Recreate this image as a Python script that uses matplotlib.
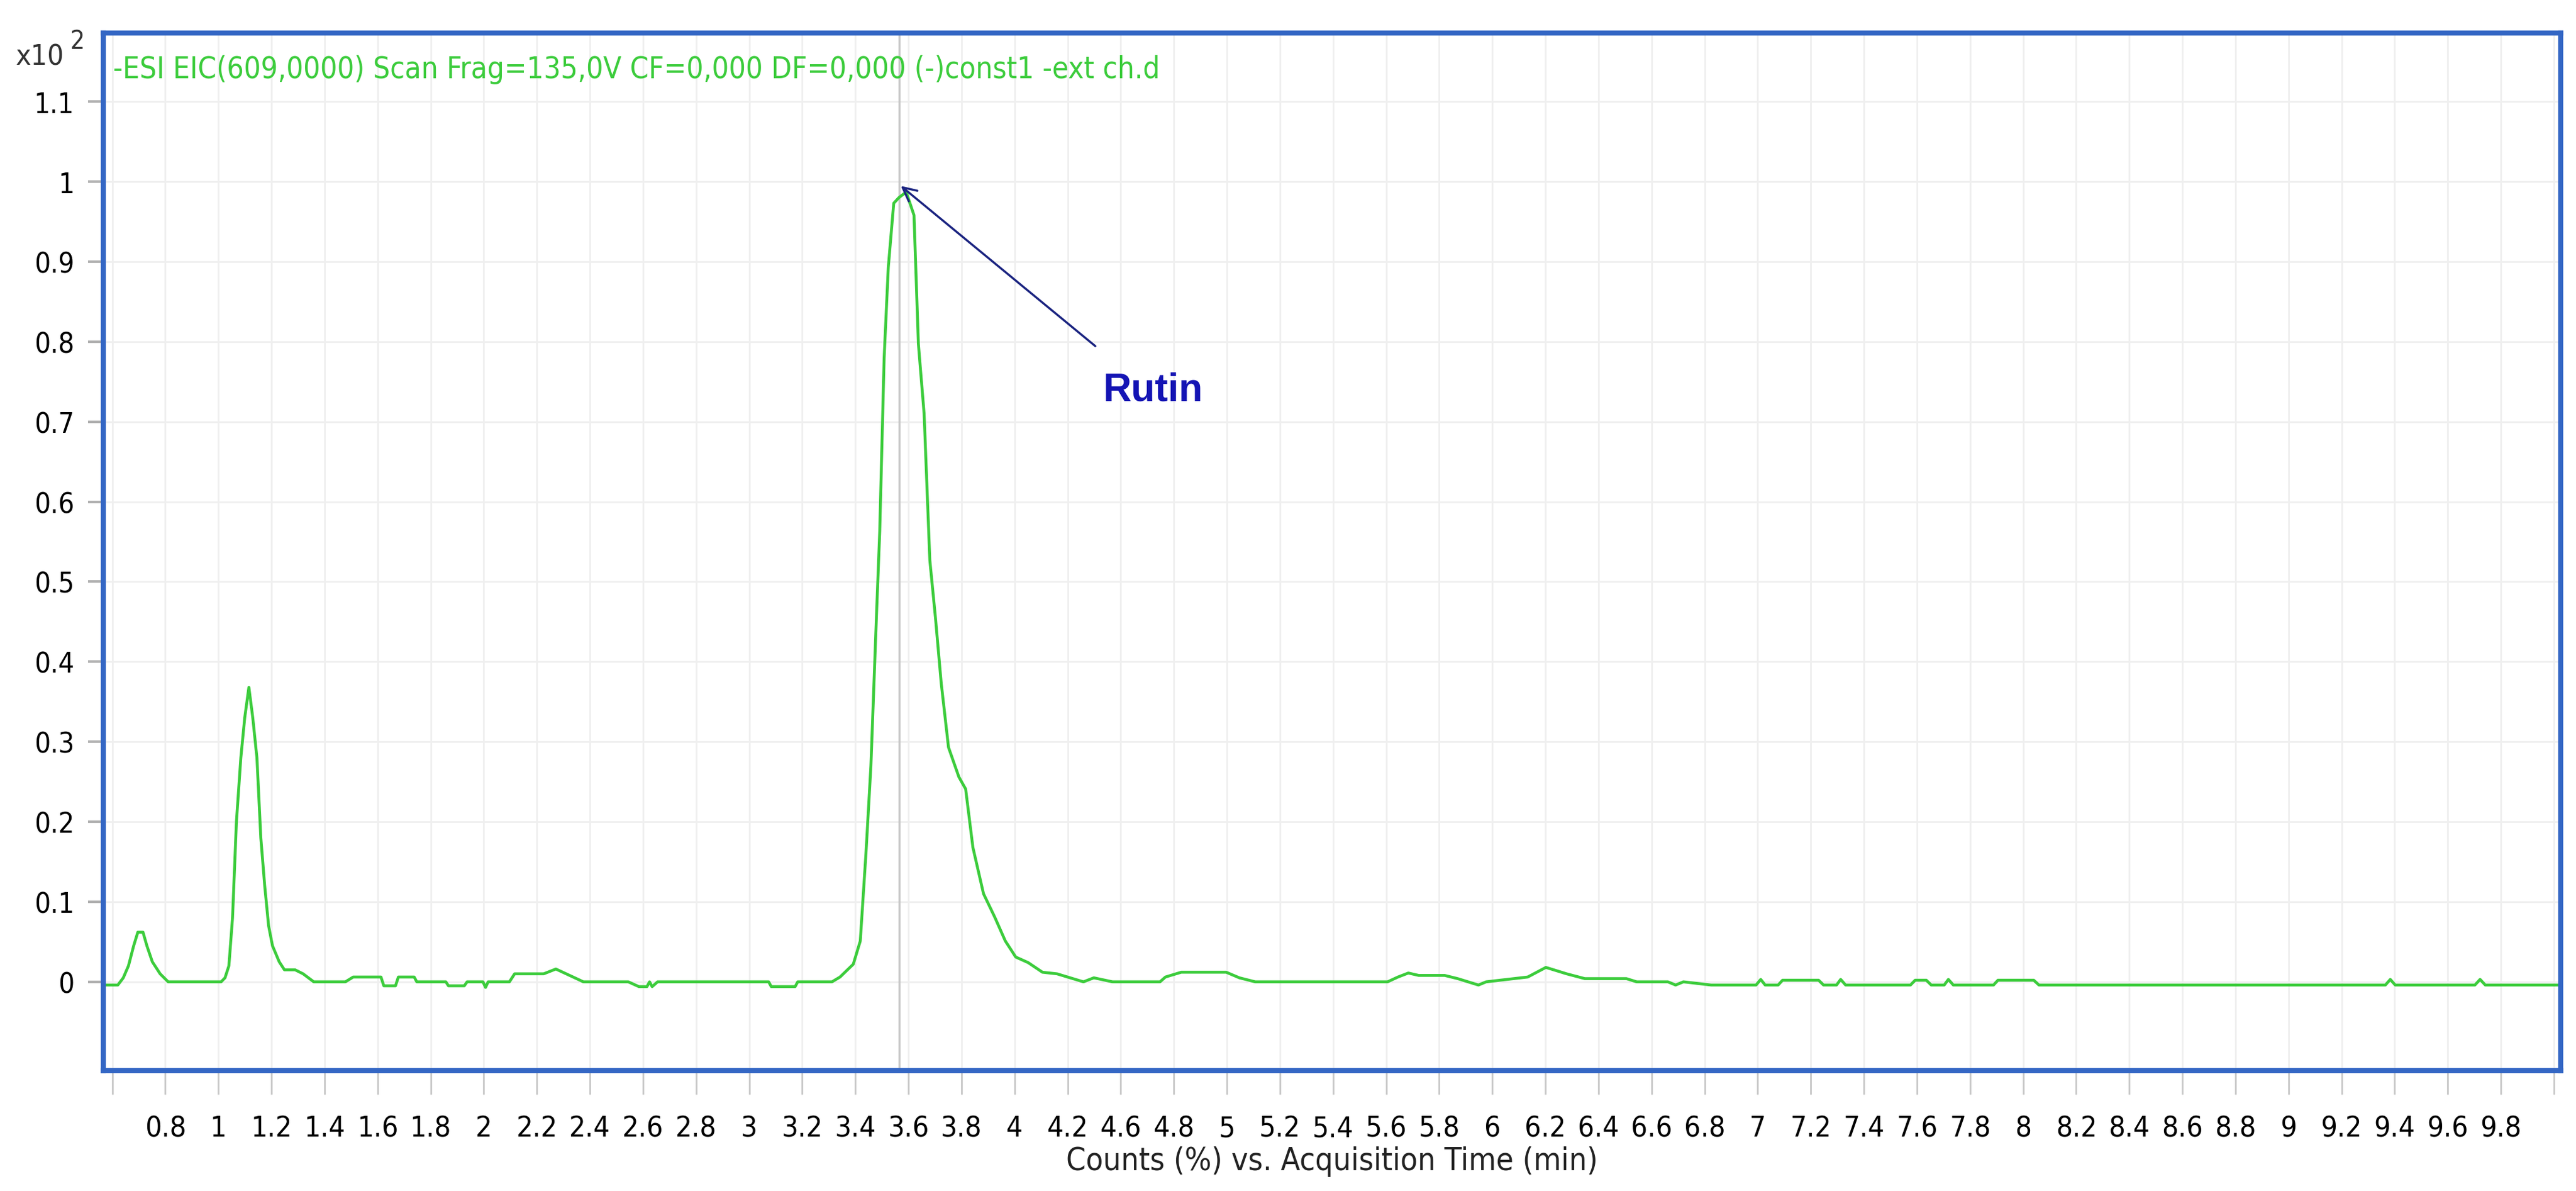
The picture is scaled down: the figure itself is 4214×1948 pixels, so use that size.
import matplotlib
matplotlib.use("Agg")
import matplotlib.pyplot as plt
from matplotlib import font_manager

tiempo = [0.556, 0.617, 0.638, 0.658, 0.678, 0.694, 0.714, 0.729, 0.750, 0.780, 0.811,
          1.015, 1.030, 1.045, 1.059, 1.074, 1.091, 1.106, 1.122, 1.137, 1.153, 1.168,
          1.183, 1.198, 1.213, 1.239, 1.259, 1.300, 1.331, 1.372, 1.494, 1.524, 1.631,
          1.642, 1.687, 1.698, 1.759, 1.769, 1.881, 1.891, 1.952, 1.963, 2.024, 2.034,
          2.044, 2.126, 2.146, 2.258, 2.305, 2.411, 2.584, 2.625, 2.656, 2.666, 2.676,
          2.697, 3.125, 3.135, 3.227, 3.237, 3.369, 3.400,
          3.451, 3.478, 3.500, 3.519, 3.540, 3.553, 3.570, 3.586, 3.607, 3.627, 3.655,
          3.685, 3.702, 3.724, 3.746, 3.768, 3.790, 3.818, 3.858, 3.884, 3.912, 3.953,
          3.996, 4.037, 4.077, 4.125, 4.180, 4.236, 4.338, 4.378, 4.450, 4.633, 4.654,
          4.715, 4.888, 4.939, 5.000,
          5.51, 5.55, 5.59, 5.63, 5.73, 5.78, 5.82, 5.86, 5.89, 6.05, 6.12, 6.20, 6.27,
          6.43, 6.47, 6.59, 6.62, 6.65, 6.757, 6.93, 6.948, 6.965, 7.015, 7.032, 7.171,
          7.19, 7.24, 7.256, 7.275, 7.525, 7.543, 7.586, 7.605, 7.655, 7.671, 7.69,
          7.845, 7.862, 8.0, 8.02, 9.355, 9.374, 9.393, 9.70, 9.72, 9.74, 10.03]
intensidad = [-0.004, -0.004, 0.005, 0.02, 0.045, 0.062, 0.062, 0.045, 0.025, 0.01, 0.0,
              0.0, 0.005, 0.02, 0.08, 0.2, 0.28, 0.33, 0.368, 0.33, 0.28, 0.18,
              0.12, 0.07, 0.045, 0.025, 0.015, 0.015, 0.01, 0.0, 0.0, 0.006, 0.006,
              -0.005, -0.005, 0.006, 0.006, 0.0, 0.0, -0.005, -0.005, 0.0, 0.0, -0.007,
              0.0, 0.0, 0.01, 0.01, 0.016, 0.0, 0.0, -0.006, -0.006, 0.0, -0.006,
              0.0, 0.0, -0.006, -0.006, 0.0, 0.0, 0.006,
              0.022, 0.051, 0.161, 0.27, 0.454, 0.563, 0.78, 0.893, 0.973, 0.98, 0.987,
              0.958, 0.797, 0.71, 0.527, 0.454, 0.373, 0.293, 0.256, 0.241, 0.168, 0.11,
              0.081, 0.051, 0.031, 0.024, 0.012, 0.01, 0.0, 0.005, 0.0, 0.0, 0.006,
              0.012, 0.012, 0.005, 0.0,
              0.0, 0.006, 0.011, 0.008, 0.008, 0.004, 0.0, -0.004, 0.0, 0.006, 0.018, 0.01, 0.004,
              0.004, 0.0, 0.0, -0.004, 0.0, -0.004, -0.004, 0.003, -0.004, -0.004, 0.002, 0.002,
              -0.004, -0.004, 0.003, -0.004, -0.004, 0.002, 0.002, -0.004, -0.004, 0.003, -0.004,
              -0.004, 0.002, 0.002, -0.004, -0.004, 0.003, -0.004, -0.004, 0.003, -0.004, -0.004]

etiquetas_x = ["0.8", "1", "1.2", "1.4", "1.6", "1.8", "2", "2.2", "2.4", "2.6", "2.8",
               "3", "3.2", "3.4", "3.6", "3.8", "4", "4.2", "4.6", "4.8", "5", "5.2",
               "5.4", "5.6", "5.8", "6", "6.2", "6.4", "6.6", "6.8", "7", "7.2", "7.4",
               "7.6", "7.8", "8", "8.2", "8.4", "8.6", "8.8", "9", "9.2", "9.4", "9.6", "9.8"]
valores_y = [0, 0.1, 0.2, 0.3, 0.4, 0.5, 0.6, 0.7, 0.8, 0.9, 1.0, 1.1]
etiquetas_y = ["0", "0.1", "0.2", "0.3", "0.4", "0.5", "0.6", "0.7", "0.8", "0.9", "1", "1.1"]

pico_rutina = (3.629, 0.996)

# ============================================================
# FUENTE ANGOSTA (la del software del equipo es condensada)
# ============================================================
nombres = {f.name for f in font_manager.fontManager.ttflist}
if "Liberation Sans Narrow" in nombres:
    fuente = dict(family="Liberation Sans Narrow")
else:
    fuente = dict(family="DejaVu Sans", stretch="condensed")

# ============================================================
# FIGURA
# ============================================================
fig = plt.figure(figsize=(42.14, 19.49), dpi=100)
ax = fig.add_axes([0.040, 0.101, 0.954, 0.871])

ax.set_xlim(0.56, 10.03)
ax.set_ylim(-0.111, 1.186)

# marcas del eje x: uniformes, una por etiqueta (+ extremos sin etiqueta)
paso = 9 / 44
pos_x = [0.8 - paso] + [0.8 + i * paso for i in range(len(etiquetas_x))] + [0.8 + len(etiquetas_x) * paso]
ax.set_xticks(pos_x)
ax.set_xticklabels([""] + etiquetas_x + [""], fontsize=34, **fuente)
ax.set_yticks(valores_y)
ax.set_yticklabels(etiquetas_y, fontsize=33, **fuente)
ax.tick_params(axis="x", length=28, width=2, color="#c8c8c8", pad=24, direction="out")
ax.tick_params(axis="y", length=18, width=3, color="#b0b0b0", pad=16, direction="out")
ax.grid(True, color="#efefef", linewidth=2)
ax.set_axisbelow(True)

for lado in ax.spines.values():
    lado.set_color("#3366c4")
    lado.set_linewidth(6)

ax.axvline(pico_rutina[0], color="#c8c8c8", linewidth=2.5)
ax.plot(tiempo, intensidad, color="#3ccc3c", linewidth=3.4)

ax.annotate("", xy=pico_rutina, xytext=(4.389, 0.793),
            arrowprops=dict(arrowstyle="->", color="#1a2380", lw=2.5, mutation_scale=40))
ax.text(4.414, 0.74, "Rutin", color="#1414b4", fontsize=46, fontweight="bold",
        family=["Liberation Sans", "DejaVu Sans"], va="center", ha="left")

ax.text(0.004, 0.965, "-ESI EIC(609,0000) Scan Frag=135,0V CF=0,000 DF=0,000 (-)const1 -ext ch.d",
        transform=ax.transAxes, color="#3ccc3c", fontsize=35, va="center", **fuente)
fig.text(0.006, 0.952, "x10", fontsize=34, color="#333333", va="center", **fuente)
fig.text(0.027, 0.965, "2", fontsize=30, color="#333333", va="center", **fuente)

ax.set_xlabel("Counts (%) vs. Acquisition Time (min)", fontsize=37,
              color="#222222", labelpad=4, **fuente)

fig.savefig("out.png", dpi=100)
